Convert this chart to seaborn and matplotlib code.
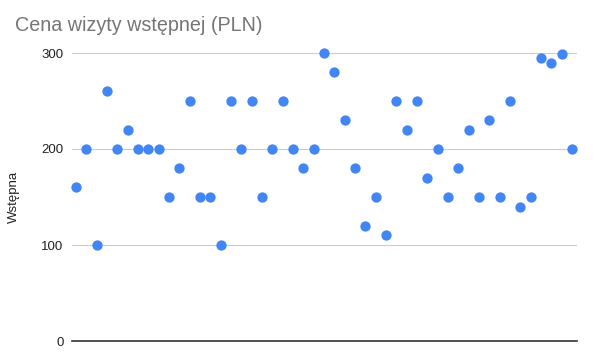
import pandas as pd
import matplotlib.pyplot as plt
import seaborn as sns

# wartości
nr = list(range(1, 50))
wstepna = [160, 200, 100, 260, 200, 220, 200, 200, 200, 150,
           180, 250, 150, 150, 100, 250, 200, 250, 150, 200,
           250, 200, 180, 200, 300, 280, 230, 180, 120, 150,
           110, 250, 220, 250, 170, 200, 150, 180, 220, 150,
           230, 150, 250, 140, 150, 295, 290, 299, 200]
y_ticks = [0, 100, 200, 300]

df = pd.DataFrame({'nr': nr, 'Wstępna': wstepna})

sns.set_style('white')
plt.rcParams['font.family'] = ['Liberation Sans', 'DejaVu Sans']

fig = plt.figure(figsize=(5.93, 3.59), dpi=100)
ax = fig.add_axes([72 / 593, 18 / 359, 505 / 593, 288 / 359])

sns.scatterplot(data=df, x='nr', y='Wstępna', ax=ax, color='#4285f4',
                s=55, linewidth=0, clip_on=False, zorder=3)

ax.set_xlim(0.6, 49.5)
ax.set_ylim(0, 300)
ax.set_yticks(y_ticks)
ax.set_yticklabels([str(t) for t in y_ticks], fontsize=9.5, color='#222222')
ax.set_xticks([])
ax.set_xlabel('')
ax.set_ylabel('Wstępna', fontsize=9.5, color='#222222')
ax.yaxis.set_label_coords((20 - 72) / 505, (341 - 197) / 288)
ax.tick_params(axis='y', length=0, pad=6)
ax.grid(axis='y', color='#cccccc', linewidth=0.8)
for s in ['top', 'right', 'left']:
    ax.spines[s].set_visible(False)
ax.spines['bottom'].set_color('#333333')
ax.spines['bottom'].set_linewidth(1.2)

fig.text(15 / 593, 1 - 31 / 359, 'Cena wizyty wstępnej (PLN)', fontsize=14.2,
         color='#757575', ha='left', va='baseline')

fig.savefig('out.png', dpi=100)
